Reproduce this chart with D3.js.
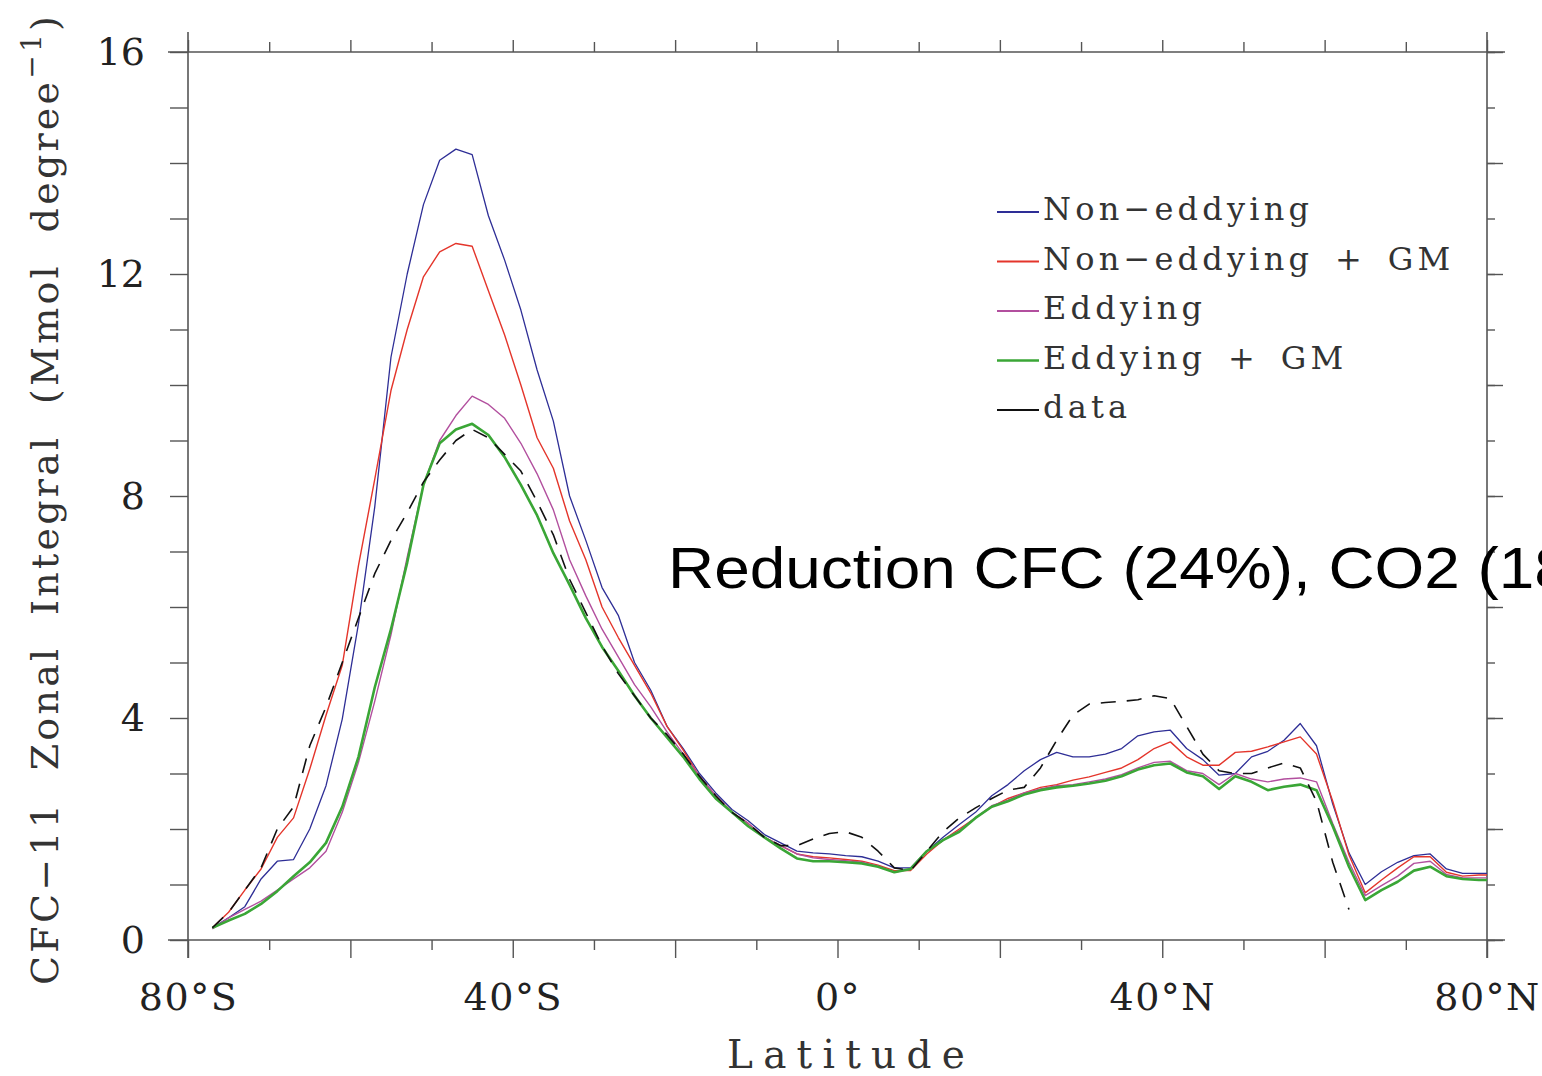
<!DOCTYPE html>
<html>
<head>
<meta charset="utf-8">
<script src="https://cdn.jsdelivr.net/npm/d3@7"></script>
<style>
  html, body { margin: 0; padding: 0; background: #fff; }
  svg { display: block; }
</style>
</head>
<body>
<div id="container"></div>
<script>
// latitude grid (degrees, negative = south)
const lat = [
    -77, -75, -73, -71, -69, -67, -65, -63, -61, -59,
    -57, -55, -53, -51, -49, -47, -45, -43, -41, -39,
    -37, -35, -33, -31, -29, -27, -25, -23, -21, -19,
    -17, -15, -13, -11, -9, -7, -5, -3, -1, 1,
    3, 5, 7, 9, 11, 13, 15, 17, 19, 21,
    23, 25, 27, 29, 31, 33, 35, 37, 39, 41,
    43, 45, 47, 49, 51, 53, 55, 57, 59, 61,
    63, 65, 67, 69, 71, 73, 75, 77, 79, 80
];

const nonEddying = [
    0.22, 0.4, 0.6, 1.1, 1.42, 1.45, 2.0, 2.78, 3.98, 5.7,
    7.8, 10.5, 12.0, 13.25, 14.05, 14.25, 14.15, 13.05, 12.25, 11.35,
    10.27, 9.35, 8.0, 7.2, 6.35, 5.85, 5.0, 4.5, 3.85, 3.45,
    3.0, 2.65, 2.35, 2.15, 1.9, 1.75, 1.6, 1.57, 1.55, 1.52,
    1.5, 1.42, 1.3, 1.3, 1.6, 1.85, 2.08, 2.3, 2.6, 2.8,
    3.05, 3.25, 3.38, 3.3, 3.3, 3.35, 3.45, 3.68, 3.75, 3.78,
    3.45, 3.25, 2.97, 3.0, 3.3, 3.4, 3.6, 3.9, 3.5, 2.45,
    1.57, 1.0, 1.23, 1.4, 1.52, 1.55, 1.28, 1.2, 1.2, 1.2
];

const nonEddyingGM = [
    0.22, 0.5, 0.9, 1.28, 1.85, 2.2, 3.08, 4.05, 4.95, 6.75,
    8.3, 9.9, 11.0, 11.95, 12.4, 12.55, 12.5, 11.7, 10.9, 10.0,
    9.05, 8.5, 7.55, 6.85, 6.0, 5.45, 4.95, 4.45, 3.85, 3.42,
    2.95, 2.6, 2.3, 2.1, 1.85, 1.7, 1.55, 1.5, 1.48, 1.45,
    1.42, 1.35, 1.25, 1.25, 1.55, 1.8, 2.0, 2.2, 2.4, 2.55,
    2.65, 2.75, 2.8, 2.88, 2.94, 3.02, 3.1, 3.25, 3.45, 3.57,
    3.3, 3.15, 3.15, 3.38, 3.4, 3.48, 3.57, 3.66, 3.35, 2.5,
    1.53, 0.85, 1.08, 1.3, 1.5, 1.5, 1.22, 1.15, 1.17, 1.17
];

const eddying = [
    0.2, 0.4, 0.55, 0.7, 0.9, 1.1, 1.3, 1.6, 2.3, 3.2,
    4.3, 5.5, 6.9, 8.2, 9.0, 9.45, 9.8, 9.65, 9.4, 8.95,
    8.4, 7.75, 6.85, 6.2, 5.6, 5.1, 4.6, 4.2, 3.75, 3.35,
    2.95, 2.6, 2.3, 2.1, 1.85, 1.7, 1.55, 1.48, 1.45, 1.43,
    1.4, 1.33, 1.22, 1.28, 1.6, 1.8, 1.97, 2.2, 2.42, 2.52,
    2.65, 2.72, 2.78, 2.8, 2.85, 2.9, 2.98, 3.1, 3.2, 3.22,
    3.05, 3.0, 2.8, 3.0, 2.9, 2.85, 2.9, 2.92, 2.85, 2.1,
    1.4, 0.8, 0.98, 1.15, 1.38, 1.42, 1.18, 1.12, 1.12, 1.12
];

const eddyingGM = [
    0.22, 0.35, 0.47, 0.65, 0.88, 1.15, 1.4, 1.75, 2.4, 3.3,
    4.55, 5.6, 6.8, 8.2, 8.95, 9.2, 9.3, 9.1, 8.7, 8.2,
    7.65, 6.97, 6.4, 5.8, 5.28, 4.85, 4.4, 4.0, 3.65, 3.3,
    2.9, 2.55, 2.3, 2.05, 1.85, 1.65, 1.47, 1.42, 1.42, 1.4,
    1.38, 1.32, 1.22, 1.28, 1.6, 1.8, 1.95, 2.2, 2.4, 2.5,
    2.62, 2.7, 2.75, 2.78, 2.82, 2.87, 2.95, 3.07, 3.15, 3.18,
    3.02, 2.95, 2.72, 2.95, 2.85, 2.7, 2.76, 2.8, 2.7, 2.05,
    1.32, 0.72, 0.9, 1.05, 1.25, 1.32, 1.15, 1.1, 1.08, 1.08
];

// observations stop near 64N
const obsData = [
    0.22, 0.5, 0.9, 1.3, 2.0, 2.4, 3.5, 4.2, 5.0, 5.8,
    6.6, 7.2, 7.7, 8.25, 8.65, 9.0, 9.2, 9.05, 8.75, 8.45,
    7.9, 7.3, 6.5, 5.9, 5.3, 4.8, 4.4, 4.0, 3.7, 3.35,
    2.95, 2.6, 2.3, 2.1, 1.85, 1.7, 1.7, 1.82, 1.92, 1.95,
    1.85, 1.6, 1.3, 1.25, 1.6, 1.95, 2.2, 2.38, 2.55, 2.7,
    2.75, 3.1, 3.6, 4.05, 4.25, 4.28, 4.3, 4.33, 4.4, 4.35,
    3.85, 3.35, 3.05, 3.0, 3.0, 3.1, 3.19, 3.1, 2.5, 1.4,
    0.55, null, null, null, null, null, null, null, null, null
];

const seriesNames = ['Non\u2212eddying', 'Non\u2212eddying \u200a+ \u200aGM', 'Eddying', 'Eddying \u200a+ \u200aGM', 'data'];
const xLabelTicks = [-80, -40, 0, 40, 80];
const yLabelTicks = [0, 4, 8, 12, 16];

const W = 1542, H = 1076;
const serif = '"DejaVu Serif", serif';

const svg = d3.select('#container')
    .append('svg')
    .attr('width', W)
    .attr('height', H)
    .style('background-color', '#ffffff');

const x = d3.scaleLinear().domain([-80, 80]).range([188, 1487]);
const y = d3.scaleLinear().domain([0, 16]).range([940, 52]);

const series = [
    { name: seriesNames[0], values: nonEddying, color: '#2e2e96', width: 1.3, dash: null },
    { name: seriesNames[1], values: nonEddyingGM, color: '#e4352b', width: 1.4, dash: null },
    { name: seriesNames[2], values: eddying, color: '#b24f9e', width: 1.4, dash: null },
    { name: seriesNames[3], values: eddyingGM, color: '#3aa636', width: 2.6, dash: null },
    { name: seriesNames[4], values: obsData, color: '#111111', width: 1.6, dash: '15,11' }
];

// frame, lines run a little past the corners
const frameColor = '#555555';
const [x0, x1] = x.range();
const [yb, yt] = y.range();
const frame = svg.append('g').attr('stroke', frameColor).attr('stroke-width', 1.6);
frame.append('line').attr('x1', x0 - 20).attr('x2', x1 + 18).attr('y1', yb).attr('y2', yb);
frame.append('line').attr('x1', x0 - 20).attr('x2', x1 + 18).attr('y1', yt).attr('y2', yt);
frame.append('line').attr('x1', x0).attr('x2', x0).attr('y1', yt - 20).attr('y2', yb + 18);
frame.append('line').attr('x1', x1).attr('x2', x1).attr('y1', yt - 20).attr('y2', yb + 18);

function styleTicks(g) {
    g.select('.domain').remove();
    g.selectAll('.tick line').attr('stroke', frameColor).attr('stroke-width', 1.4);
}

const majorLat = d3.range(-80, 81, 20);
const minorLat = d3.range(-70, 80, 20);
const yMinor = d3.range(0, 17, 1);
const yMid = d3.range(0, 17, 2);

// bottom / top ticks
svg.append('g').attr('transform', `translate(0,${yb})`)
    .call(d3.axisBottom(x).tickValues(majorLat).tickSize(18).tickFormat(''))
    .call(styleTicks);
svg.append('g').attr('transform', `translate(0,${yb})`)
    .call(d3.axisBottom(x).tickValues(minorLat).tickSize(10).tickFormat(''))
    .call(styleTicks);
svg.append('g').attr('transform', `translate(0,${yt})`)
    .call(d3.axisTop(x).tickValues(majorLat).tickSize(12).tickFormat(''))
    .call(styleTicks);
svg.append('g').attr('transform', `translate(0,${yt})`)
    .call(d3.axisTop(x).tickValues(minorLat).tickSize(10).tickFormat(''))
    .call(styleTicks);

// left / right ticks
svg.append('g').attr('transform', `translate(${x0},0)`)
    .call(d3.axisLeft(y).tickValues(yMinor).tickSize(18).tickFormat(''))
    .call(styleTicks);
svg.append('g').attr('transform', `translate(${x1},0)`)
    .call(d3.axisRight(y).tickValues(yMinor).tickSize(8).tickFormat(''))
    .call(styleTicks);
svg.append('g').attr('transform', `translate(${x1},0)`)
    .call(d3.axisRight(y).tickValues(yMid).tickSize(16).tickFormat(''))
    .call(styleTicks);

// tick labels
const latFormat = d => d === 0 ? '0\u00b0' : `${Math.abs(d)}\u00b0${d < 0 ? 'S' : 'N'}`;
svg.append('g').attr('transform', `translate(0,${yb})`)
    .call(d3.axisBottom(x).tickValues(xLabelTicks).tickSize(0).tickPadding(43).tickFormat(latFormat))
    .call(g => g.select('.domain').remove())
    .call(g => g.selectAll('text')
        .style('font-family', serif)
        .style('font-size', '38px')
        .attr('fill', '#222')
        .attr('letter-spacing', 1.5));

svg.append('g').attr('transform', `translate(${x0},0)`)
    .call(d3.axisLeft(y).tickValues(yLabelTicks).tickSize(0).tickPadding(43).tickFormat(d3.format('d')))
    .call(g => g.select('.domain').remove())
    .call(g => g.selectAll('text')
        .style('font-family', serif)
        .style('font-size', '38px')
        .attr('fill', '#222'));

// spread text out to a target length with letter spacing
function fitText(sel, target) {
    const node = sel.node();
    const natural = node.getComputedTextLength();
    const n = node.textContent.length;
    sel.attr('letter-spacing', ((target - natural) / n).toFixed(2));
}

// x title
const xTitle = svg.append('text')
    .attr('x', 727)
    .attr('y', 1068)
    .style('font-family', serif)
    .style('font-size', '39px')
    .attr('fill', '#333')
    .text('Latitude');
fitText(xTitle, 248);

// y title, rotated
const yTitle = svg.append('text')
    .attr('transform', 'translate(58,985) rotate(-90)')
    .attr('xml:space', 'preserve')
    .style('font-family', serif)
    .style('font-size', '38px')
    .attr('fill', '#333');
yTitle.append('tspan').text('CFC\u221211  Zonal  Integral  (Mmol  degree');
yTitle.append('tspan').attr('dy', -17).style('font-size', '28px').text('\u22121');
yTitle.append('tspan').attr('dy', 17).text(')');
fitText(yTitle, 972);

// curves
const line = d3.line()
    .defined(d => d[1] !== null)
    .x(d => x(d[0]))
    .y(d => y(d[1]));

svg.append('g')
    .selectAll('path')
    .data(series)
    .join('path')
    .attr('d', s => line(lat.map((l, i) => [l, s.values[i]])))
    .attr('fill', 'none')
    .attr('stroke', s => s.color)
    .attr('stroke-width', s => s.width)
    .attr('stroke-linejoin', 'round')
    .attr('stroke-dasharray', s => s.dash);

// legend
const legend = svg.append('g').attr('transform', 'translate(997,220)');
series.forEach((s, i) => {
    const row = legend.append('g').attr('transform', `translate(0,${i * 49.5})`);
    row.append('line')
        .attr('x1', 0).attr('x2', 42)
        .attr('y1', -8).attr('y2', -8)
        .attr('stroke', s.color)
        .attr('stroke-width', i === 3 ? 2.6 : 2);
    row.append('text')
        .attr('x', 46)
        .style('font-family', serif)
        .style('font-size', '32px')
        .attr('fill', '#333')
        .attr('letter-spacing', 4.2)
        .attr('xml:space', 'preserve')
        .text(s.name);
});

// annotation
svg.append('text')
    .attr('x', 668)
    .attr('y', 588)
    .style('font-family', '"Liberation Sans", Arial, sans-serif')
    .style('font-size', '58px')
    .attr('fill', '#000')
    .attr('textLength', 980)
    .attr('lengthAdjust', 'spacingAndGlyphs')
    .text('Reduction CFC (24%), CO2 (18%)');
</script>
</body>
</html>
